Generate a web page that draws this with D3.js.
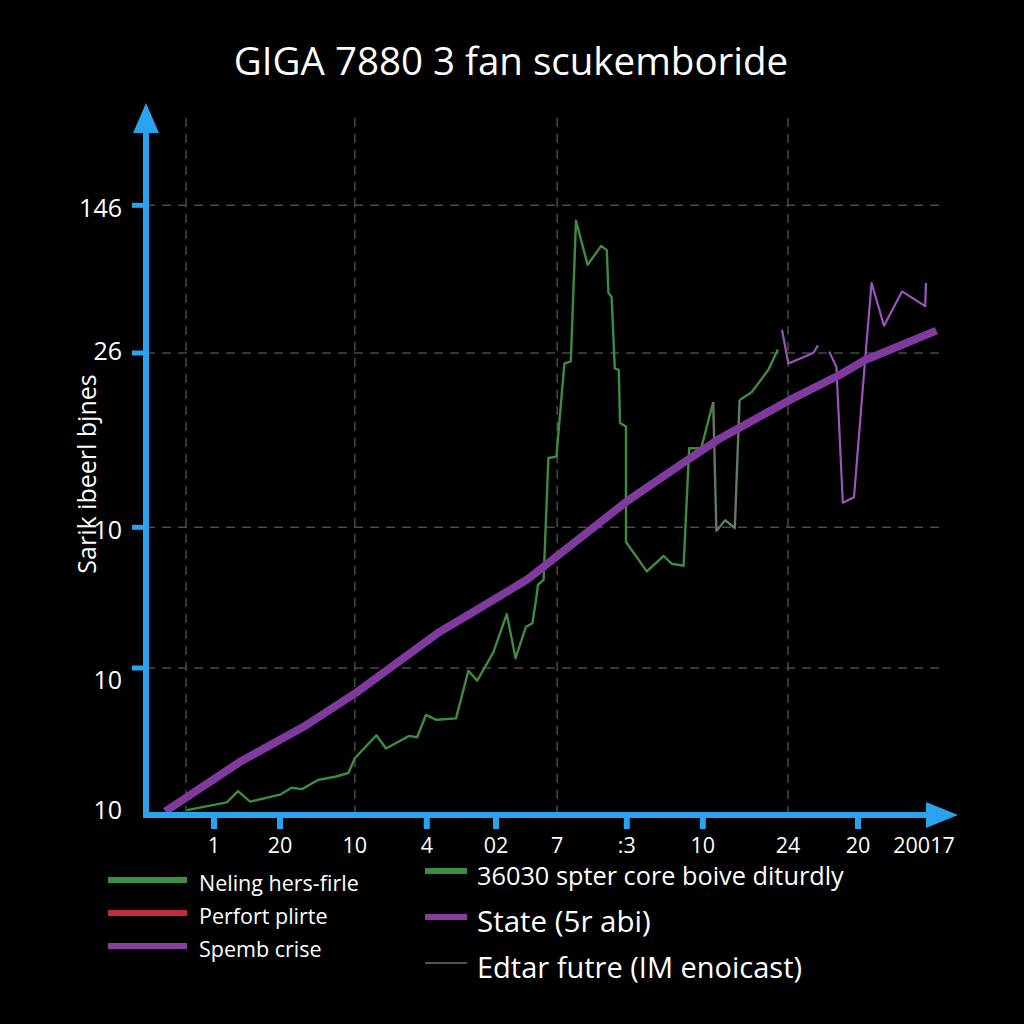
<!DOCTYPE html>
<html><head><meta charset="utf-8">
<script src="https://cdn.jsdelivr.net/npm/d3@7"></script>
<style>html,body{margin:0;padding:0;background:#000;}svg{display:block;}</style>
</head><body>
<svg id="c" width="1024" height="1024"></svg>
<script>
// ---- data ----
const titleText = "GIGA 7880 3 fan scukemboride";
const yAxisTitle = "Sarik ibeerl bjnes";
const yGridVals = [87.1, 66, 41.1, 21];
const yLabelVals = [86.7, 66.3, 40.7, 19.3, 0.7];
const yLabels = ["146", "26", "10", "10", "10"];
const xGridVals = [5, 26.1, 51.4, 80.25];
const xLabelVals = [8.5, 16.75, 26.1, 35.1, 43.75, 51.4, 60.1, 69.6, 80.25, 89, 97.25];
const xLabels = ["1", "20", "10", "4", "02", "7", ":3", "10", "24", "20", "20017"];
const xTickMarkVals = [8.5, 16.75, 35.1, 43.75, 60.1, 69.6, 89];

const greenX = [5.1,10.1,11.5,13.0,16.75,18.2,19.5,21.5,23.8,25.3,26.1,28.8,30.0,32.9,33.9,35.0,36.3,38.75,40.3,41.4,43.4,45.1,46.2,47.5,48.3,48.75,49.0,49.7,50.3,51.3,52.3,53.1,53.75,55.2,56.9,57.6,57.8,58.2,58.6,59.1,59.25,60.0,60.0,62.6,64.7,65.7,67.2,67.9,69.4,70.9,null,74.2,75.7,77.8,79.0];
const greenY = [0.7,1.8,3.4,1.9,2.9,3.9,3.7,5.0,5.5,6.0,8.1,11.4,9.5,11.3,11.1,14.3,13.6,13.8,20.6,19.2,23.2,28.7,22.4,26.9,27.4,30.7,32.9,33.6,51.0,51.2,64.5,64.8,84.9,78.6,81.3,80.7,74.6,74.0,63.8,63.6,56.0,55.5,39.0,34.8,37.0,35.9,35.6,52.4,52.4,59.0,null,59.3,60.4,63.6,66.5];
const greyX = [70.9,71.3,72.4,73.6,74.2];
const greyY = [59.0,40.6,42.1,41.0,59.3];
const purpleX = [79.5,80.3,83.4,84.0,null,85.4,86.3,87.1,88.5,89.9,90.7,92.25,94.5,97.4,97.5];
const purpleY = [69.3,64.5,66.0,67.1,null,66.2,64.0,44.6,45.4,65.2,76.0,69.9,74.8,72.7,76.0];
const trendX = [2.4,9.25,11.75,19.7,26.3,36.75,40.9,47.6,60.1,66.75,71.75,75.1,80.5,86.75,89.9,98.8];
const trendY = [0.5,5.7,7.6,12.6,17.5,26.2,29.0,33.6,44.8,50,53.8,55.9,59.3,62.9,65.0,69.2];

const legendLeft = ["Neling hers-firle", "Perfort plirte", "Spemb crise"];
const legendRight = ["36030 spter core boive diturdly", "State (5r abi)", "Edtar futre (IM enoicast)"];

// ---- styles ----
const BLUE = "#29a3ee", GREEN = "#3d8c3f", PURPLE = "#7e3a9c", PURPLE_THIN = "#9e52bd", GREY = "#5f7a66", RED = "#c42a3e";
const FONT = "'Open Sans', 'Noto Sans', sans-serif";

const svg = d3.select("#c");
svg.append("rect").attr("width", 1024).attr("height", 1024).attr("fill", "#000");

const x = d3.scaleLinear().domain([0, 100]).range([146, 946]);
const y = d3.scaleLinear().domain([0, 100]).range([815, 115]);

// title
svg.append("text").attr("x", 511).attr("y", 75).attr("text-anchor", "middle")
  .attr("fill", "#fff").attr("font-family", FONT).attr("font-size", 38.5).text(titleText);

// gridlines
const g = svg.append("g");
g.selectAll(".hg").data(yGridVals).join("line")
  .attr("x1", x(0)).attr("x2", 940).attr("y1", d => y(d)).attr("y2", d => y(d))
  .attr("stroke", "#4a4a4a").attr("stroke-width", 1.5).attr("stroke-dasharray", "9,7");
g.selectAll(".vg").data(xGridVals).join("line")
  .attr("x1", d => x(d)).attr("x2", d => x(d)).attr("y1", 118).attr("y2", y(0))
  .attr("stroke", "#4a4a4a").attr("stroke-width", 1.5).attr("stroke-dasharray", "9,7");

// series
const mk = (xs, ys) => xs.map((v, i) => ({x: v, y: ys[i]}));
const line = d3.line().defined(d => d.x != null).x(d => x(d.x)).y(d => y(d.y));

svg.append("path").datum(mk(greenX, greenY)).attr("d", line)
  .attr("fill", "none").attr("stroke", GREEN).attr("stroke-width", 2.4).attr("stroke-linejoin", "round");
svg.append("path").datum(mk(greyX, greyY)).attr("d", line)
  .attr("fill", "none").attr("stroke", GREY).attr("stroke-width", 2.4).attr("stroke-linejoin", "round");
svg.append("path").datum(mk(purpleX, purpleY)).attr("d", line)
  .attr("fill", "none").attr("stroke", PURPLE_THIN).attr("stroke-width", 2.2).attr("stroke-linejoin", "round");
svg.append("path").datum(mk(trendX, trendY)).attr("d", d3.line().x(d => x(d.x)).y(d => y(d.y)))
  .attr("fill", "none").attr("stroke", PURPLE).attr("stroke-width", 8).attr("stroke-linejoin", "round");

// axes
const ax = svg.append("g");
ax.append("line").attr("x1", x(0)).attr("x2", x(0)).attr("y1", y(0) + 3).attr("y2", 130)
  .attr("stroke", BLUE).attr("stroke-width", 6);
ax.append("path").attr("d", `M${x(0)},103 L${x(0) - 13},133 L${x(0) + 13},133 Z`).attr("fill", BLUE);
ax.append("line").attr("x1", x(0) - 3).attr("x2", 930).attr("y1", y(0)).attr("y2", y(0))
  .attr("stroke", BLUE).attr("stroke-width", 6);
ax.append("path").attr("d", `M958,${y(0)} L926,${y(0) - 13} L926,${y(0) + 13} Z`).attr("fill", BLUE);

// y ticks
ax.selectAll(".yt").data(yGridVals).join("line")
  .attr("x1", x(0) - 14).attr("x2", x(0)).attr("y1", d => y(d)).attr("y2", d => y(d))
  .attr("stroke", BLUE).attr("stroke-width", 5);
ax.selectAll(".yl").data(yLabelVals).join("text")
  .attr("x", 122).attr("y", d => y(d)).attr("dy", "0.36em").attr("text-anchor", "end")
  .attr("fill", "#fff").attr("font-family", FONT).attr("font-size", 25)
  .text((d, i) => yLabels[i]);

// x ticks
ax.selectAll(".xt").data(xTickMarkVals).join("line")
  .attr("x1", d => x(d)).attr("x2", d => x(d)).attr("y1", y(0)).attr("y2", y(0) + 14)
  .attr("stroke", BLUE).attr("stroke-width", 6);
ax.selectAll(".xl").data(xLabelVals).join("text")
  .attr("x", d => x(d)).attr("y", 853).attr("text-anchor", "middle")
  .attr("fill", "#fff").attr("font-family", FONT).attr("font-size", 21.5)
  .text((d, i) => xLabels[i]);

// y axis title
svg.append("text").attr("transform", "translate(96,474) rotate(-90)").attr("text-anchor", "middle")
  .attr("fill", "#fff").attr("font-family", FONT).attr("font-size", 25).text(yAxisTitle);

// legend left
const llColors = [GREEN, RED, "#8a3d9e"];
const ll = svg.append("g");
legendLeft.forEach((t, i) => {
  const yy = 880 + i * 33;
  ll.append("line").attr("x1", 108).attr("x2", 187).attr("y1", yy).attr("y2", yy)
    .attr("stroke", llColors[i]).attr("stroke-width", 6);
  ll.append("text").attr("x", 199).attr("y", yy + 3).attr("dy", "0.35em")
    .attr("fill", "#fff").attr("font-family", FONT).attr("font-size", 21.5).text(t);
});

// legend right
const lr = svg.append("g");
const lrColors = [GREEN, "#8a3d9e", GREY];
const lrWidths = [6, 6, 1.5];
const lrY = [871, 917, 963];
const lrSizes = [25.3, 29.5, 29];
legendRight.forEach((t, i) => {
  lr.append("line").attr("x1", 425).attr("x2", 467).attr("y1", lrY[i]).attr("y2", lrY[i])
    .attr("stroke", lrColors[i]).attr("stroke-width", lrWidths[i]);
  lr.append("text").attr("x", 477).attr("y", lrY[i] + 5).attr("dy", "0.35em")
    .attr("fill", "#fff").attr("font-family", FONT).attr("font-size", lrSizes[i]).text(t);
});
</script>
</body></html>
